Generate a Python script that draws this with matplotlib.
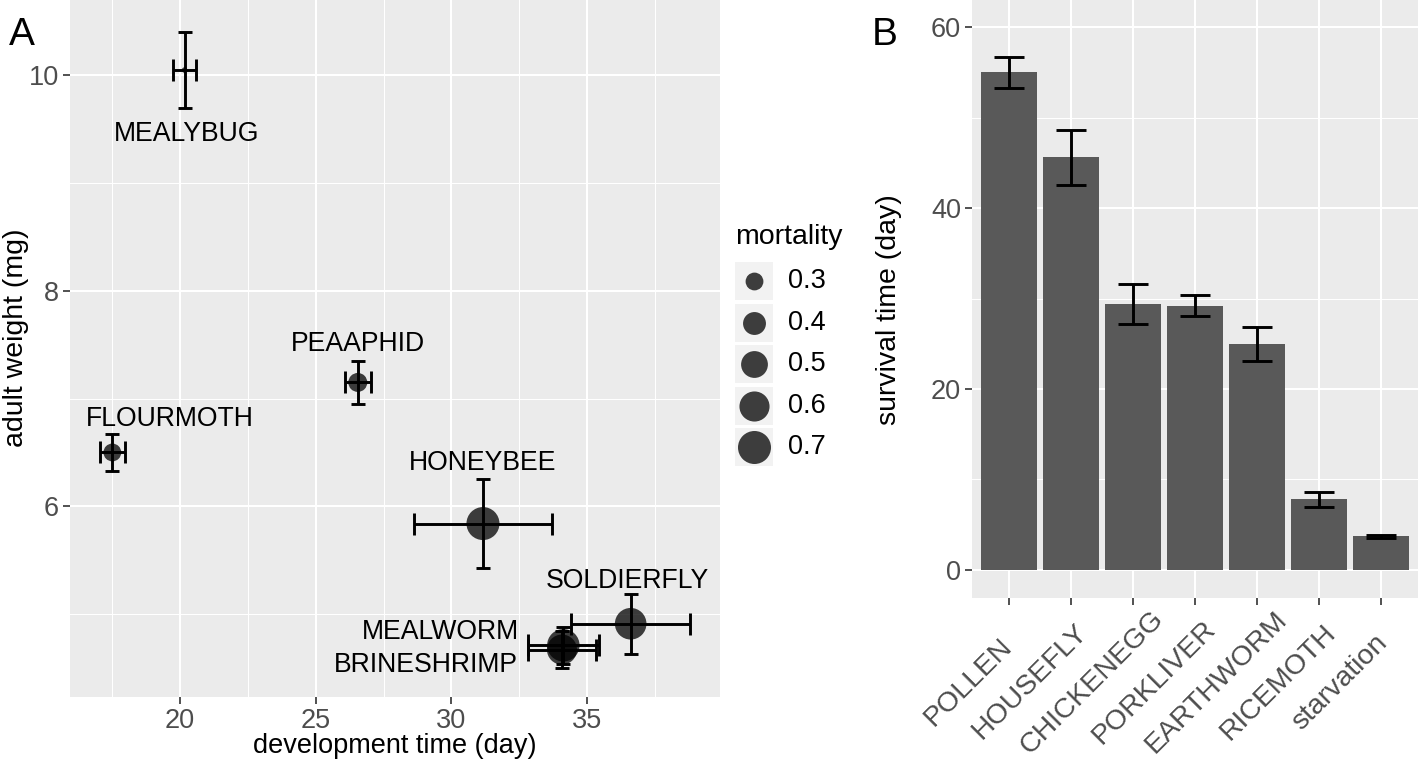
import numpy as np
import matplotlib
matplotlib.use("Agg")
import matplotlib.pyplot as plt
from matplotlib.patches import Rectangle

plt.rcParams['font.family'] = ['Liberation Sans', 'DejaVu Sans']

# ---------------- data: panel A ----------------
species = ["MEALYBUG", "FLOURMOTH", "PEAAPHID", "HONEYBEE", "SOLDIERFLY", "MEALWORM", "BRINESHRIMP"]
dev_time = [20.17, 17.51, 26.55, 31.16, 36.6, 34.12, 34.07]
dev_err = [0.43, 0.46, 0.48, 2.53, 2.2, 1.31, 1.25]
weight = [10.05, 6.50, 7.15, 5.84, 4.91, 4.71, 4.67]
weight_err = [0.35, 0.17, 0.20, 0.41, 0.28, 0.17, 0.17]
mortality = [0.20, 0.30, 0.32, 0.70, 0.65, 0.68, 0.60]
mortality_breaks = [0.3, 0.4, 0.5, 0.6, 0.7]
xticks_A = [20, 25, 30, 35]
yticks_A = [6, 8, 10]

# ---------------- data: panel B ----------------
diets = ["POLLEN", "HOUSEFLY", "CHICKENEGG", "PORKLIVER", "EARTHWORM", "RICEMOTH", "starvation"]
survival = [55.0, 45.6, 29.4, 29.2, 25.0, 7.8, 3.7]
survival_err = [1.75, 3.05, 2.2, 1.15, 1.9, 0.8, 0.12]
yticks_B = [0, 20, 40, 60]

# ---------------- style ----------------
W, H = 1418, 763
PX = 72.0 / 100.0  # points per pixel
BG = "#EBEBEB"
TICKLAB = "#4D4D4D"
TICK = "#333333"
EB_LW = 2.1

# label offsets (points) and alignment for panel A
label_off = [(1.4, -51.4), (41.4, 19.1), (0.0, 22.7), (0.0, 38.4), (-2.2, 25.9), (-32.0, 4.3), (-31.7, -15.8)]
label_ha = ["center", "center", "center", "center", "center", "right", "right"]

m_min, m_max = 0.2, 0.7


def diam_pt(m):
    m = np.asarray(m, dtype=float)
    px = 5.5 + 27.5 * np.sqrt(np.clip((m - m_min) / (m_max - m_min), 0, 1))
    return px * PX


fig = plt.figure(figsize=(W / 100, H / 100), dpi=100)


def frac(x0, y0, x1, y1):
    return [x0 / W, 1 - y1 / H, (x1 - x0) / W, (y1 - y0) / H]


def style_axes(ax):
    ax.set_facecolor(BG)
    for s in ax.spines.values():
        s.set_visible(False)
    ax.grid(True, which="major", color="white", linewidth=1.5, zorder=0)
    ax.grid(True, which="minor", color="white", linewidth=0.75, zorder=0)
    ax.set_axisbelow(True)
    ax.tick_params(which="major", length=5, width=1.2, color=TICK, labelcolor=TICKLAB,
                   labelsize=19.5, pad=3)
    ax.tick_params(which="minor", length=0)


# ---------------- panel A ----------------
axA = fig.add_axes(frac(70, 0, 720, 697))
style_axes(axA)
axA.set_xlim(15.95, 39.89)
axA.set_ylim(4.23, 10.70)
axA.set_xticks(xticks_A)
axA.set_yticks(yticks_A)
axA.set_xticks([17.5, 22.5, 27.5, 32.5, 37.5], minor=True)
axA.set_yticks([5, 7, 9], minor=True)

axA.scatter(dev_time, weight, s=diam_pt(mortality) ** 2, color="black", alpha=0.75,
            linewidths=0, zorder=3)
axA.errorbar(dev_time, weight, yerr=weight_err, fmt="none", ecolor="black",
             elinewidth=EB_LW, capsize=5, capthick=EB_LW, zorder=4)
axA.errorbar(dev_time, weight, xerr=dev_err, fmt="none", ecolor="black",
             elinewidth=EB_LW, capsize=7.6, capthick=EB_LW, zorder=4)
for name, x, y, off, ha in zip(species, dev_time, weight, label_off, label_ha):
    axA.annotate(name, (x, y), xytext=off, textcoords="offset points", ha=ha,
                 va="baseline", fontsize=19.2, color="black", zorder=5)

fig.text(395 / W, 1 - 746 / H, "development time (day)", ha="center", va="center", fontsize=19.5)
fig.text(16 / W, 1 - 338 / H, "adult weight (mg)", ha="center", va="center", fontsize=20.5,
         rotation=90)
fig.text(9 / W, 1 - 45 / H, "A", ha="left", va="baseline", fontsize=28)

# ---------------- legend (pixel coordinates) ----------------
axL = fig.add_axes(frac(725, 200, 870, 490))
axL.set_xlim(725, 870)
axL.set_ylim(490, 200)
axL.axis("off")
axL.text(735, 237, "mortality", ha="left", va="center", fontsize=20.5)
for i, b in enumerate(mortality_breaks):
    cy = 281 + i * 41.5
    axL.add_patch(Rectangle((735, cy - 19), 38, 38, facecolor="#F2F2F2", edgecolor="none"))
    axL.scatter([754], [cy], s=diam_pt(b) ** 2, color="black", alpha=0.75, linewidths=0)
    axL.text(788, cy, f"{b:.1f}", ha="left", va="center", fontsize=19.5)

# ---------------- panel B ----------------
axB = fig.add_axes(frac(972, 0, 1418, 598))
style_axes(axB)
pos = np.arange(1, len(diets) + 1)
axB.bar(pos, survival, width=0.9, color="#595959", zorder=2)
axB.errorbar(pos, survival, yerr=survival_err, fmt="none", ecolor="black",
             elinewidth=EB_LW, capsize=11, capthick=EB_LW, zorder=3)
axB.set_xlim(0.4, 7.6)
axB.set_ylim(-3.1, 63.0)
axB.set_yticks(yticks_B)
axB.set_yticks([10, 30, 50], minor=True)
axB.set_xticks(pos)
axB.set_xticklabels([])
axB.tick_params(axis="x", which="major", length=5)
axB.xaxis.grid(True, which="major", color="white", linewidth=1.5)

# rotated category labels, centred below-left of each tick (as in the reference)
for p, name in zip(pos, diets):
    axB.annotate(name, xy=(p, H - 687), xycoords=("data", "figure pixels"),
                 xytext=(-36 * PX, 0), textcoords="offset points",
                 rotation=45, rotation_mode="anchor", ha="center", va="baseline",
                 fontsize=20.4, color=TICKLAB, annotation_clip=False)

fig.text(889 / W, 1 - 310 / H, "survival time (day)", ha="center", va="center", fontsize=20.5,
         rotation=90)
fig.text(872 / W, 1 - 45 / H, "B", ha="left", va="baseline", fontsize=28)

fig.savefig("out.png", dpi=100)
